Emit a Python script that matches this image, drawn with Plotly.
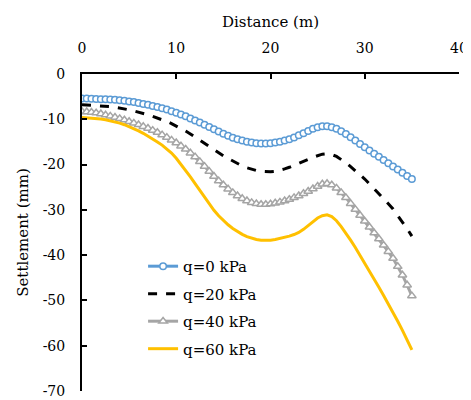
import plotly.graph_objects as go

distance = [i * 0.5 for i in range(71)]

q0 = [-5.4, -5.4, -5.45, -5.5, -5.55, -5.6, -5.65, -5.7, -5.8, -5.9,
      -6.05, -6.2, -6.4, -6.6, -6.8, -7.05, -7.3, -7.55, -7.85, -8.2,
      -8.55, -8.95, -9.35, -9.8, -10.25, -10.7, -11.2, -11.7, -12.2, -12.7,
      -13.2, -13.65, -14.05, -14.4, -14.7, -14.95, -15.15, -15.3, -15.35, -15.35,
      -15.3, -15.15, -14.95, -14.7, -14.4, -14.0, -13.55, -13.1, -12.6, -12.1,
      -11.75, -11.55, -11.55, -11.75, -12.1, -12.65, -13.25, -13.95, -14.7, -15.45,
      -16.2, -16.9, -17.6, -18.3, -19.0, -19.7, -20.4, -21.1, -21.8, -22.5,
      -23.2]

q20 = [-6.8, -6.85, -6.9, -6.95, -7.0, -7.1, -7.2, -7.35, -7.5, -7.7,
       -7.9, -8.15, -8.4, -8.7, -9.0, -9.35, -9.7, -10.1, -10.5, -10.95,
       -11.45, -12.0, -12.6, -13.25, -13.95, -14.65, -15.35, -16.05, -16.75, -17.4,
       -18.05, -18.65, -19.25, -19.8, -20.3, -20.7, -21.05, -21.3, -21.5, -21.6,
       -21.6, -21.5, -21.3, -20.95, -20.6, -20.2, -19.8, -19.3, -18.85, -18.4,
       -18.0, -17.7, -17.6, -17.8, -18.2, -18.85, -19.6, -20.45, -21.3, -22.25,
       -23.2, -24.25, -25.3, -26.4, -27.5, -28.65, -29.8, -31.2, -32.6, -34.2,
       -35.8]

q40 = [-8.3, -8.35, -8.45, -8.6, -8.8, -9.05, -9.3, -9.55, -9.85, -10.15,
       -10.5, -10.85, -11.2, -11.6, -12.0, -12.45, -12.9, -13.45, -14.0, -14.6,
       -15.2, -15.9, -16.6, -17.45, -18.3, -19.35, -20.4, -21.5, -22.6, -23.6,
       -24.5, -25.4, -26.2, -26.9, -27.5, -28.0, -28.4, -28.65, -28.8, -28.8,
       -28.7, -28.5, -28.3, -28.0, -27.7, -27.3, -26.9, -26.4, -25.9, -25.35,
       -24.8, -24.3, -24.2, -24.5, -25.2, -26.2, -27.3, -28.6, -29.9, -31.2,
       -32.5, -33.8, -35.1, -36.4, -37.8, -39.2, -40.7, -42.5, -44.4, -46.6,
       -49.0]

q60 = [-9.6, -9.65, -9.7, -9.8, -9.95, -10.1, -10.3, -10.55, -10.85, -11.2,
       -11.6, -12.05, -12.55, -13.1, -13.7, -14.35, -15.0, -15.7, -16.5, -17.45,
       -18.6, -19.9, -21.3, -22.7, -24.2, -25.7, -27.2, -28.7, -30.1, -31.3,
       -32.4, -33.3, -34.1, -34.8, -35.4, -35.9, -36.3, -36.55, -36.7, -36.75,
       -36.7, -36.55, -36.35, -36.1, -35.8, -35.45, -35.0, -34.3, -33.4, -32.5,
       -31.8, -31.3, -31.1, -31.5, -32.4, -33.7, -35.1, -36.7, -38.3, -40.0,
       -41.8, -43.5, -45.3, -47.1, -48.9, -50.7, -52.6, -54.6, -56.6, -58.7,
       -60.9]

x_ticks = [0, 10, 20, 30, 40]
x_tick_labels = ["0", "10", "20", "30", "40"]
y_ticks = [0, -10, -20, -30, -40, -50, -60, -70]
y_tick_labels = ["0", "-10", "-20", "-30", "-40", "-50", "-60", "-70"]

series_names = ["q=0 kPa", "q=20 kPa", "q=40 kPa", "q=60 kPa"]

FONT = "DejaVu Serif"

fig = go.Figure()
fig.add_trace(go.Scatter(
    x=distance, y=q0, name=series_names[0], mode="lines+markers",
    line=dict(color="#5B9BD5", width=3),
    marker=dict(symbol="circle", size=6.5, color="white",
                line=dict(color="#5B9BD5", width=1.5)),
    legendgroup="a"))
fig.add_trace(go.Scatter(
    x=distance, y=q20, name=series_names[1], mode="lines",
    line=dict(color="black", width=3, dash="dash"),
    legendgroup="b"))
fig.add_trace(go.Scatter(
    x=distance, y=q40, name=series_names[2], mode="lines+markers",
    line=dict(color="#A5A5A5", width=3),
    marker=dict(symbol="triangle-up", size=7.5, color="white",
                line=dict(color="#A5A5A5", width=1.5)),
    legendgroup="c"))
fig.add_trace(go.Scatter(
    x=distance, y=q60, name=series_names[3], mode="lines",
    line=dict(color="#FFC000", width=3),
    legendgroup="d"))

fig.update_layout(
    width=463, height=392,
    margin=dict(l=74, r=12, t=66, b=9),
    paper_bgcolor="white", plot_bgcolor="white",
    font=dict(family=FONT, size=14, color="black"),
    showlegend=True,
    legend=dict(x=0.162, y=0.445, xanchor="left", yanchor="top",
                bgcolor="rgba(0,0,0,0)", font=dict(family=FONT, size=15),
                tracegroupgap=5, traceorder="grouped"),
    xaxis=dict(
        side="top", range=[0, 40], tickvals=x_ticks, ticktext=x_tick_labels,
        ticks="inside", ticklen=5, tickwidth=2, tickcolor="black",
        showline=True, linecolor="black", linewidth=2,
        showgrid=False, zeroline=False, automargin=False,
        ticklabelstandoff=13,
        title=dict(text="Distance (m)", font=dict(family=FONT, size=15), standoff=9),
        tickfont=dict(family=FONT, size=14),
    ),
    yaxis=dict(
        range=[-70, 0], tickvals=y_ticks, ticktext=y_tick_labels,
        ticks="inside", ticklen=5, tickwidth=2, tickcolor="black",
        showline=True, linecolor="black", linewidth=2,
        showgrid=False, zeroline=False, automargin=False,
        ticklabelstandoff=12,
        title=dict(text="Settlement (mm)", font=dict(family=FONT, size=15), standoff=10),
        tickfont=dict(family=FONT, size=14),
    ),
)

fig.write_html("out.html")
